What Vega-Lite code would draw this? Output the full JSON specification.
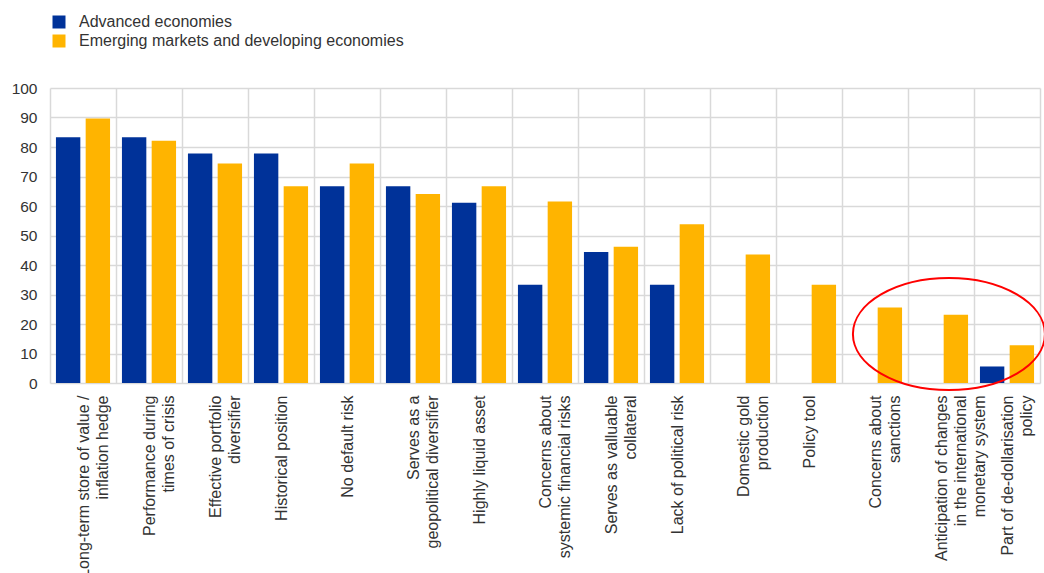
{
  "$schema": "https://vega.github.io/schema/vega-lite/v6.json",
  "width": 990,
  "height": 295,
  "autosize": {"type": "none"},
  "padding": {"left": 50, "top": 88, "right": 4, "bottom": 190},
  "background": "white",
  "config": {
    "view": {"stroke": null},
    "font": "Liberation Sans",
    "axisY": {
      "title": null,
      "values": [0, 10, 20, 30, 40, 50, 60, 70, 80, 90, 100],
      "grid": true,
      "gridColor": "#d9d9d9",
      "gridWidth": 1.5,
      "domain": false,
      "ticks": false,
      "labelOverlap": false,
      "labelFontSize": 15.5,
      "labelColor": "#333333",
      "labelPadding": 13
    }
  },
  "datasets": {
    "bars": [
      {"category": "Long-term store of value /|inflation hedge", "series": "Advanced economies", "value": 83.3},
      {"category": "Long-term store of value /|inflation hedge", "series": "Emerging markets and developing economies", "value": 89.7},
      {"category": "Performance during|times of crisis", "series": "Advanced economies", "value": 83.3},
      {"category": "Performance during|times of crisis", "series": "Emerging markets and developing economies", "value": 82.1},
      {"category": "Effective portfolio|diversifier", "series": "Advanced economies", "value": 77.8},
      {"category": "Effective portfolio|diversifier", "series": "Emerging markets and developing economies", "value": 74.4},
      {"category": "Historical position", "series": "Advanced economies", "value": 77.8},
      {"category": "Historical position", "series": "Emerging markets and developing economies", "value": 66.7},
      {"category": "No default risk", "series": "Advanced economies", "value": 66.7},
      {"category": "No default risk", "series": "Emerging markets and developing economies", "value": 74.4},
      {"category": "Serves as a|geopolitical diversifier", "series": "Advanced economies", "value": 66.7},
      {"category": "Serves as a|geopolitical diversifier", "series": "Emerging markets and developing economies", "value": 64.1},
      {"category": "Highly liquid asset", "series": "Advanced economies", "value": 61.1},
      {"category": "Highly liquid asset", "series": "Emerging markets and developing economies", "value": 66.7},
      {"category": "Concerns about|systemic financial risks", "series": "Advanced economies", "value": 33.3},
      {"category": "Concerns about|systemic financial risks", "series": "Emerging markets and developing economies", "value": 61.5},
      {"category": "Serves as valluable|collateral", "series": "Advanced economies", "value": 44.4},
      {"category": "Serves as valluable|collateral", "series": "Emerging markets and developing economies", "value": 46.2},
      {"category": "Lack of political risk", "series": "Advanced economies", "value": 33.3},
      {"category": "Lack of political risk", "series": "Emerging markets and developing economies", "value": 53.8},
      {"category": "Domestic gold|production", "series": "Advanced economies", "value": 0},
      {"category": "Domestic gold|production", "series": "Emerging markets and developing economies", "value": 43.6},
      {"category": "Policy tool", "series": "Advanced economies", "value": 0},
      {"category": "Policy tool", "series": "Emerging markets and developing economies", "value": 33.3},
      {"category": "Concerns about|sanctions", "series": "Advanced economies", "value": 0},
      {"category": "Concerns about|sanctions", "series": "Emerging markets and developing economies", "value": 25.6},
      {"category": "Anticipation of changes|in the international|monetary system", "series": "Advanced economies", "value": 0},
      {"category": "Anticipation of changes|in the international|monetary system", "series": "Emerging markets and developing economies", "value": 23.1},
      {"category": "Part of de-dollarisation|policy", "series": "Advanced economies", "value": 5.6},
      {"category": "Part of de-dollarisation|policy", "series": "Emerging markets and developing economies", "value": 12.8}
    ],
    "annot": [
      {"category": "Anticipation of changes|in the international|monetary system", "value": 16.6}
    ]
  },
  "layer": [
    {
      "data": {"name": "bars"},
      "mark": {"type": "bar"},
      "encoding": {
        "x": {
          "field": "category",
          "type": "nominal",
          "sort": null,
          "scale": {"paddingInner": 0, "paddingOuter": 0},
          "axis": {
            "title": null,
            "tickBand": "extent",
            "grid": true,
            "gridColor": "#d9d9d9",
            "gridWidth": 1.5,
            "ticks": false,
            "domain": false,
            "labelAngle": -90,
            "labelAlign": "right",
            "labelBaseline": "middle",
            "labelPadding": 12,
            "labelFontSize": 16,
            "labelColor": "#333333",
            "labelLimit": 0,
            "labelLineHeight": 19,
            "labelOverlap": false,
            "labelExpr": "split(datum.label, '|')"
          }
        },
        "xOffset": {
          "field": "series",
          "type": "nominal",
          "sort": null,
          "scale": {"paddingInner": 0.18, "paddingOuter": 0.2}
        },
        "y": {
          "field": "value",
          "type": "quantitative",
          "scale": {"domain": [0, 100], "nice": false},
          "axis": {"values": [0, 10, 20, 30, 40, 50, 60, 70, 80, 90, 100], "labelOverlap": false}
        },
        "color": {
          "field": "series",
          "type": "nominal",
          "sort": null,
          "scale": {
            "domain": ["Advanced economies", "Emerging markets and developing economies"],
            "range": ["#003299", "#FFB400"]
          },
          "legend": {
            "title": null,
            "orient": "none",
            "legendX": 1,
            "legendY": -74,
            "padding": 0,
            "symbolType": "square",
            "symbolSize": 169,
            "symbolStrokeWidth": 0,
            "labelFontSize": 16,
            "labelColor": "#333333",
            "labelOffset": 12,
            "rowPadding": 3,
            "labelLimit": 0
          }
        }
      }
    },
    {
      "data": {"name": "annot"},
      "mark": {
        "type": "point",
        "shape": "M 1 0 C 1 0.322 0.5523 0.583 0 0.583 C -0.5523 0.583 -1 0.322 -1 0 C -1 -0.322 -0.5523 -0.583 0 -0.583 C 0.5523 -0.583 1 -0.322 1 0 Z",
        "filled": false,
        "stroke": "#ff0000",
        "strokeWidth": 2,
        "opacity": 1,
        "size": 36864
      },
      "encoding": {
        "x": {"field": "category", "type": "nominal", "sort": null, "bandPosition": 0.62},
        "y": {
          "field": "value",
          "type": "quantitative",
          "axis": {"values": [0, 10, 20, 30, 40, 50, 60, 70, 80, 90, 100], "labelOverlap": false}
        }
      }
    }
  ]
}
